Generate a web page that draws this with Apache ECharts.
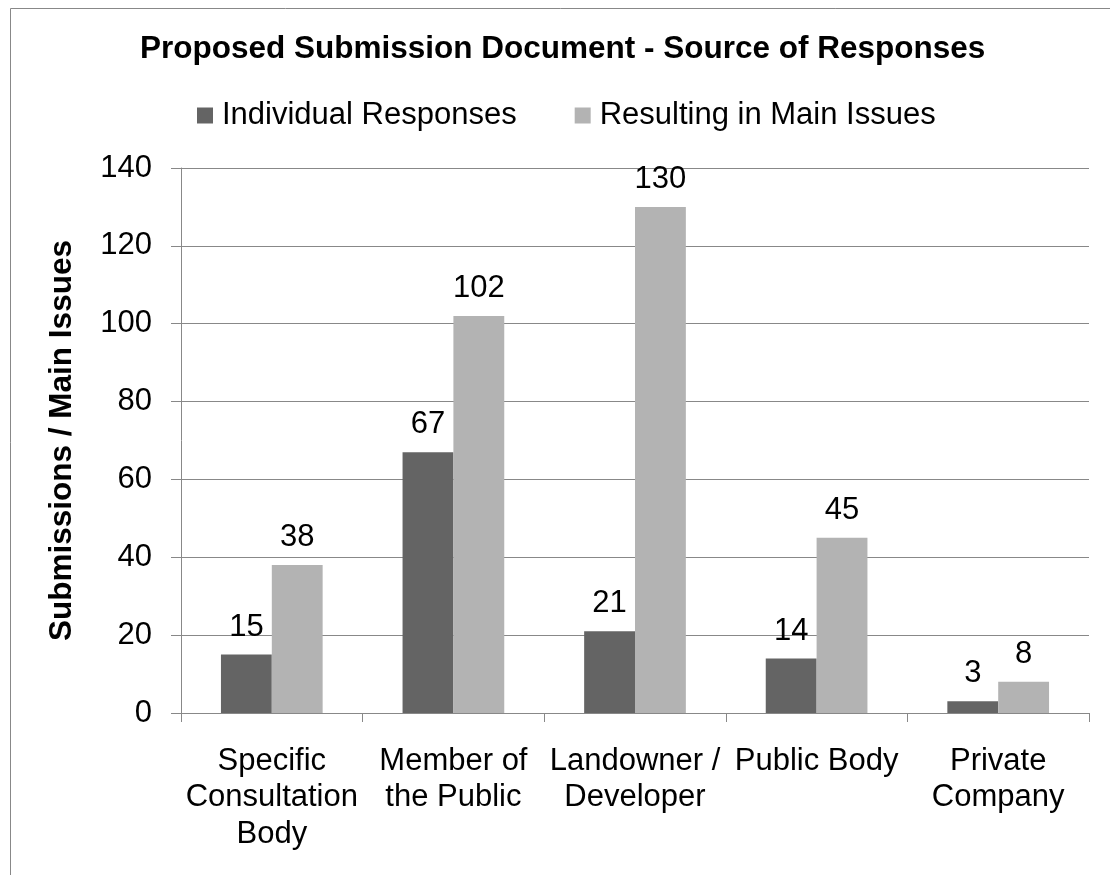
<!DOCTYPE html>
<html>
<head>
<meta charset="utf-8">
<script src="https://cdn.jsdelivr.net/npm/echarts@6/dist/echarts.min.js"></script>
<style>
html,body{margin:0;padding:0;background:#fff;}
#chart{width:1110px;height:875px;}
</style>
</head>
<body>
<div id="chart"></div>
<script>
const titleText = 'Proposed Submission Document - Source of Responses';
const yAxisName = 'Submissions / Main Issues';
const categories = ['Specific\nConsultation\nBody', 'Member of\nthe Public', 'Landowner /\nDeveloper', 'Public Body', 'Private\nCompany'];
const seriesNames = ['Individual Responses', 'Resulting in Main Issues'];
const individualResponses = [15, 67, 21, 14, 3];
const mainIssues = [38, 102, 130, 45, 8];
const yTicks = { min: 0, max: 140, interval: 20 };

const FONT = '"Liberation Sans", Arial, sans-serif';
const chart = echarts.init(document.getElementById('chart'), null, { renderer: 'canvas' });
const labelStyle = {
  show: true, position: 'top', distance: 12,
  fontFamily: FONT, fontSize: 31, color: '#000'
};
chart.setOption({
  animation: false,
  backgroundColor: '#fff',
  graphic: [{
    type: 'rect', shape: { x: 10.5, y: 8.5, width: 1200, height: 1000 },
    style: { fill: 'none', stroke: '#888', lineWidth: 1 }, z: -1
  }],
  title: {
    text: titleText, left: 135, top: 28,
    textStyle: { fontFamily: FONT, fontSize: 31.5, fontWeight: 'bold', color: '#000' }
  },
  legend: {
    left: 192, top: 95, itemWidth: 16, itemHeight: 16, itemGap: 58, icon: 'rect',
    textStyle: { fontFamily: FONT, fontSize: 31, color: '#000', padding: [0, 0, 0, 4] },
    data: seriesNames
  },
  grid: { left: 181, right: 21, top: 168, bottom: 162, containLabel: false },
  xAxis: {
    type: 'category', data: categories,
    axisLine: { show: true, lineStyle: { color: '#888', width: 1 } },
    axisTick: { show: true, length: 9, lineStyle: { color: '#888' } },
    axisLabel: { interval: 0, margin: 30, fontFamily: FONT, fontSize: 31, color: '#000', lineHeight: 36.5 }
  },
  yAxis: {
    type: 'value', min: yTicks.min, max: yTicks.max, interval: yTicks.interval,
    name: yAxisName, nameLocation: 'middle', nameGap: 103, nameRotate: 90,
    nameTextStyle: { fontFamily: FONT, fontSize: 31.5, fontWeight: 'bold', color: '#000' },
    axisLine: { show: true, lineStyle: { color: '#888', width: 1 } },
    axisTick: { show: true, length: 10, lineStyle: { color: '#888' } },
    axisLabel: { margin: 29, fontFamily: FONT, fontSize: 31, color: '#000' },
    splitLine: { show: true, lineStyle: { color: '#888', width: 1 } }
  },
  series: [
    { name: seriesNames[0], type: 'bar', data: individualResponses, barGap: '0%', barCategoryGap: '44%',
      itemStyle: { color: '#646464' }, label: labelStyle },
    { name: seriesNames[1], type: 'bar', data: mainIssues, barGap: '0%', barCategoryGap: '44%',
      itemStyle: { color: '#b3b3b3' }, label: labelStyle }
  ]
});
</script>
</body>
</html>
